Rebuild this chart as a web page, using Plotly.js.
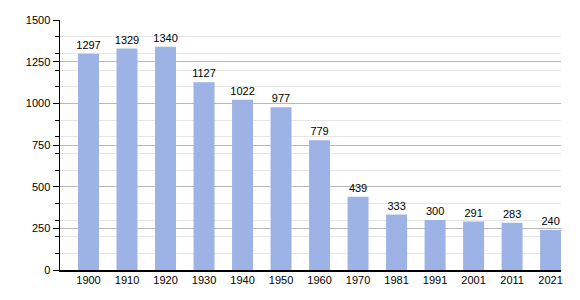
<!DOCTYPE html>
<html>
<head>
<meta charset="utf-8">
<script src="https://cdn.plot.ly/plotly-3.0.1.min.js"></script>
<style>html,body{margin:0;padding:0;background:#fff;}#chart{width:580px;height:300px;}</style>
</head>
<body>
<div id="chart"></div>
<script>
var years = ["1900","1910","1920","1930","1940","1950","1960","1970","1981","1991","2001","2011","2021"];
var population = [1297,1329,1340,1127,1022,977,779,439,333,300,291,283,240];
var yTicks = [0,250,500,750,1000,1250,1500];

var trace = {
  type: 'bar',
  x: years,
  y: population,
  text: population.map(String),
  textposition: 'outside',
  constraintext: 'none',
  cliponaxis: false,
  textfont: {family: 'Liberation Sans, Arial, sans-serif', size: 11, color: '#000'},
  marker: {color: '#9db3e6'},
  hoverinfo: 'none'
};

var layout = {
  width: 580, height: 300,
  margin: {l: 60, r: 19, t: 20, b: 30},
  paper_bgcolor: '#fff', plot_bgcolor: '#fff',
  bargap: 0.455,
  showlegend: false,
  font: {family: 'Liberation Sans, Arial, sans-serif', size: 11, color: '#000'},
  xaxis: {
    type: 'category',
    range: [-0.74, 12.27],
    showline: true, linecolor: '#000', linewidth: 1.5,
    ticks: '', showgrid: false, zeroline: false,
    ticklabelstandoff: -1,
    tickfont: {size: 11}
  },
  yaxis: {
    range: [0, 1500],
    tickvals: yTicks,
    ticktext: yTicks.map(String),
    showline: true, linecolor: '#000', linewidth: 1.5,
    ticks: 'outside', ticklen: 6, tickcolor: '#000', tickwidth: 1,
    showgrid: true, gridcolor: '#b8b8b8', gridwidth: 1,
    zeroline: false,
    tickfont: {size: 11},
    minor: {dtick: 100, tick0: 0, showgrid: true, gridcolor: '#e6e6e6', gridwidth: 1, ticks: 'outside', ticklen: 4, tickcolor: '#000'}
  }
};

Plotly.newPlot('chart', [trace], layout, {displayModeBar: false, staticPlot: true});
</script>
</body>
</html>
